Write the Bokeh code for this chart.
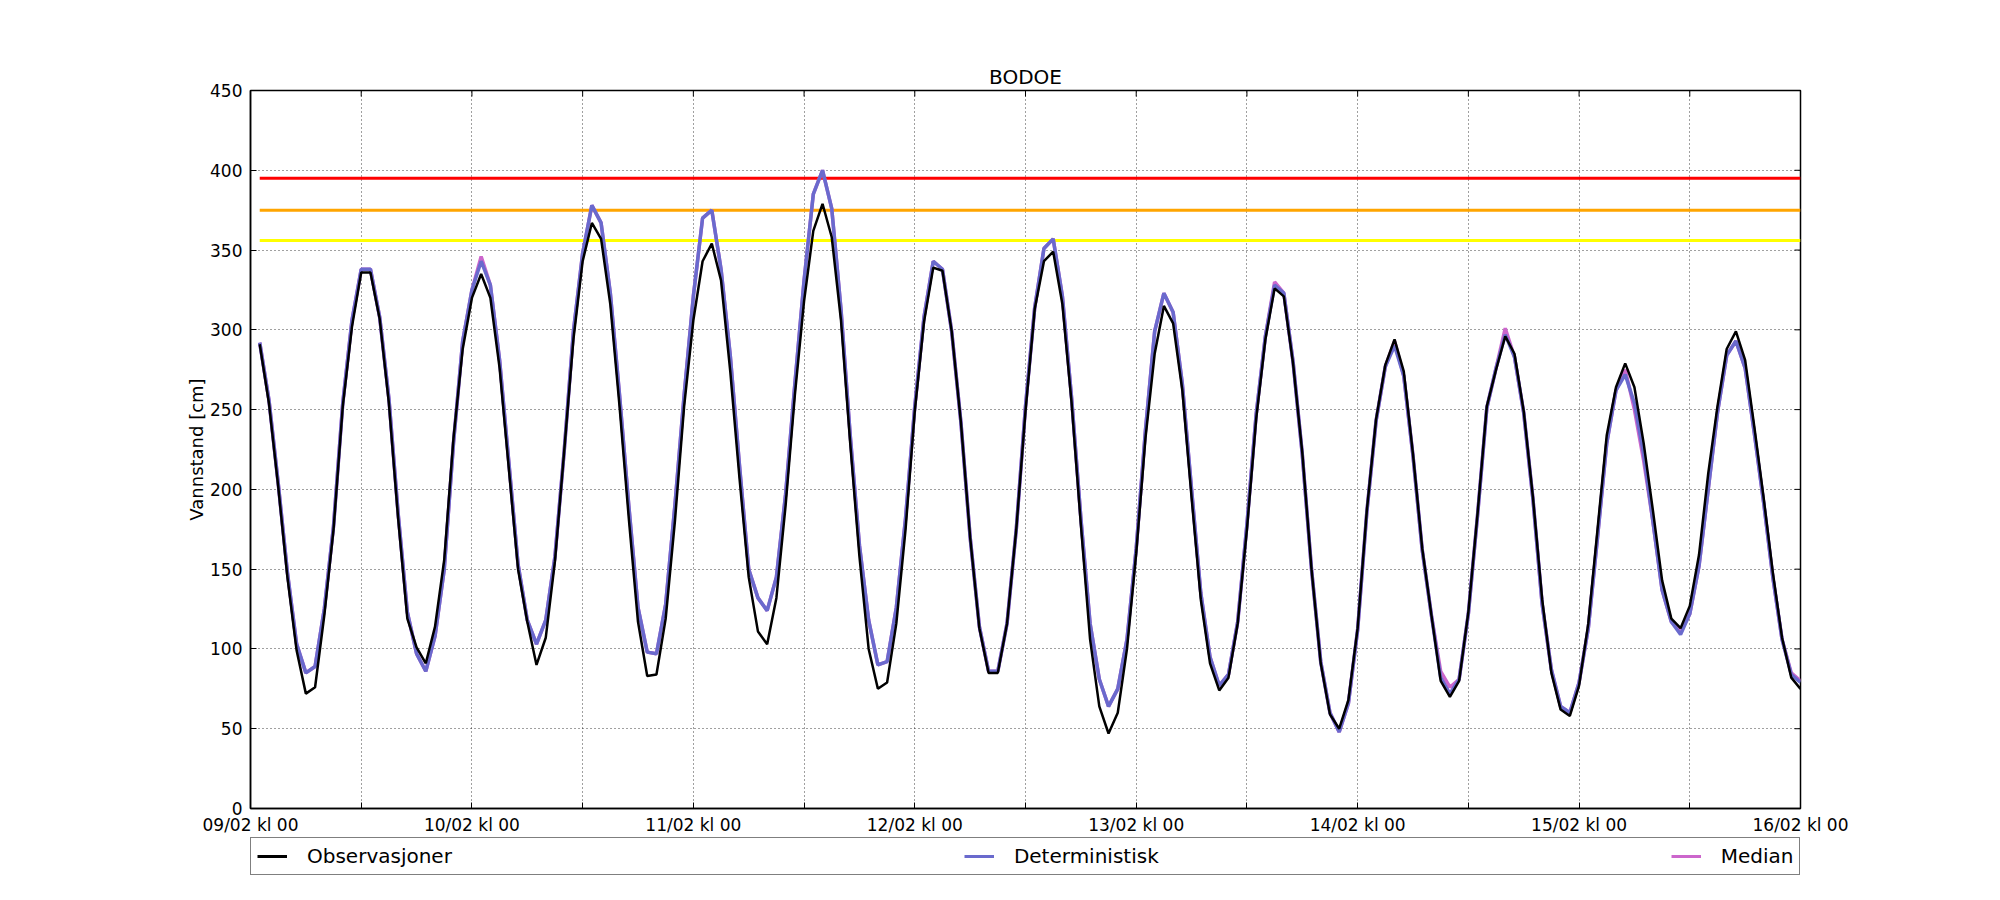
import math
from bokeh.plotting import figure
from bokeh.layouts import column
from bokeh.models import Range1d, FixedTicker, Legend, LegendItem
from bokeh.embed import file_html
from bokeh.resources import INLINE

# hours since 09/02 kl 00
hours = list(range(1, 169))

observasjoner = [
    291, 254, 202, 145, 99, 72, 76, 121, 175, 252, 302, 336, 336, 307, 254, 182, 119, 101, 91, 114,
    156, 232, 288, 320, 335, 320, 276, 213, 150, 117, 90, 107, 155, 224, 294, 343, 367, 357, 316, 252,
    182, 117, 83, 84, 119, 180, 252, 306, 343, 354, 331, 274, 207, 145, 111, 103, 132, 190, 259, 318,
    362, 379, 358, 306, 229, 158, 100, 75, 79, 116, 175, 249, 305, 339, 337, 299, 242, 170, 113, 85,
    85, 116, 175, 249, 313, 343, 349, 316, 254, 178, 106, 64, 47, 60, 100, 160, 232, 285, 315, 304,
    262, 195, 131, 91, 74, 82, 116, 175, 244, 294, 326, 321, 279, 223, 150, 91, 59, 50, 68, 113,
    187, 244, 278, 294, 274, 222, 163, 121, 80, 70, 80, 123, 185, 252, 275, 296, 285, 249, 195, 131,
    85, 62, 58, 77, 116, 175, 234, 264, 279, 264, 229, 187, 143, 119, 113, 127, 159, 210, 252, 288,
    299, 281, 239, 195, 148, 107, 82, 75,
]

deterministisk = [
    292, 256, 204, 148, 103, 85, 89, 125, 177, 254, 306, 338, 338, 308, 257, 185, 123, 97, 86, 108,
    150, 229, 293, 325, 343, 328, 281, 217, 153, 118, 103, 118, 158, 224, 299, 348, 378, 367, 323, 259,
    190, 126, 98, 97, 128, 190, 259, 321, 370, 375, 338, 284, 215, 150, 132, 124, 145, 197, 266, 331,
    385, 400, 376, 313, 234, 165, 118, 90, 92, 126, 182, 252, 308, 343, 338, 299, 242, 170, 114, 86,
    86, 116, 175, 252, 314, 351, 357, 321, 257, 182, 116, 81, 64, 75, 106, 163, 237, 299, 323, 311,
    266, 200, 135, 95, 77, 84, 117, 178, 247, 296, 328, 323, 280, 222, 150, 92, 60, 48, 66, 112,
    186, 243, 277, 290, 271, 221, 162, 121, 82, 72, 81, 122, 184, 251, 276, 297, 283, 248, 194, 128,
    87, 64, 60, 79, 113, 170, 229, 262, 272, 254, 222, 180, 137, 117, 109, 122, 152, 200, 248, 284,
    293, 276, 235, 192, 145, 106, 84, 79,
]

median = [
    292, 256, 204, 148, 103, 85, 89, 125, 177, 254, 306, 338, 338, 308, 257, 185, 123, 97, 86, 108,
    150, 229, 293, 325, 346, 328, 281, 217, 153, 118, 103, 118, 158, 224, 299, 348, 378, 367, 323, 259,
    190, 126, 98, 97, 128, 190, 259, 321, 370, 375, 338, 284, 215, 150, 132, 124, 145, 197, 266, 331,
    385, 400, 376, 313, 234, 165, 118, 90, 92, 126, 182, 252, 308, 343, 338, 299, 242, 170, 114, 86,
    86, 116, 175, 252, 314, 351, 357, 321, 257, 182, 116, 81, 64, 75, 106, 163, 237, 299, 323, 311,
    266, 200, 135, 95, 77, 84, 117, 178, 247, 296, 330, 323, 280, 222, 150, 92, 60, 48, 66, 112,
    186, 243, 277, 293, 271, 221, 162, 121, 86, 76, 81, 122, 184, 251, 276, 301, 283, 248, 194, 128,
    87, 64, 60, 79, 113, 170, 229, 262, 275, 250, 218, 180, 137, 117, 111, 122, 152, 200, 248, 284,
    293, 276, 235, 192, 145, 106, 85, 80,
]

threshold_levels = [395, 375, 356]
threshold_colors = ["#ff0000", "#ffa500", "#ffff00"]

series_names = ["Observasjoner", "Deterministisk", "Median"]
series_colors = ["black", "#6a6acd", "#cc66cc"]
series_widths = [2.5, 3.5, 3.5]

x_tick_hours = list(range(0, 169, 12))
x_tick_labels = ["09/02 kl 00", "", "10/02 kl 00", "", "11/02 kl 00", "", "12/02 kl 00", "",
                 "13/02 kl 00", "", "14/02 kl 00", "", "15/02 kl 00", "", "16/02 kl 00"]
y_ticks = list(range(0, 451, 50))
X_MIN, X_MAX, Y_MIN, Y_MAX = 0, 168, 0, 450

FONT = "DejaVu Sans"

p = figure(width=2000, height=837, output_backend="svg", toolbar_location=None,
           x_range=Range1d(X_MIN, X_MAX), y_range=Range1d(Y_MIN, Y_MAX),
           min_border_left=250, min_border_right=200, min_border_top=90, min_border_bottom=27)

p.title.text = "BODOE"
p.title.text_font = FONT
p.title.text_font_size = "20px"
p.title.text_font_style = "normal"
p.title.text_color = "black"
p.title.align = "center"
p.title.standoff = 4

p.outline_line_color = "black"
p.outline_line_width = 1.5

xt = FixedTicker(ticks=x_tick_hours)
yt = FixedTicker(ticks=y_ticks)

xa = p.xaxis[0]
xa.ticker = xt
xa.major_label_overrides = {h: lab for h, lab in zip(x_tick_hours, x_tick_labels)}
ya = p.yaxis[0]
ya.ticker = yt
ya.axis_label = "Vannstand [cm]"
ya.axis_label_text_font = FONT
ya.axis_label_text_font_size = "18px"
ya.axis_label_text_font_style = "normal"
ya.axis_label_text_color = "black"
ya.axis_label_standoff = 0

for ax in (xa, ya):
    ax.major_label_text_font = FONT
    ax.major_label_text_font_size = "17px"
    ax.major_label_text_color = "black"
    ax.major_tick_in = 6
    ax.major_tick_out = 0
    ax.minor_tick_in = 0
    ax.minor_tick_out = 0
    ax.axis_line_color = "black"
    ax.axis_line_width = 1.5
    ax.major_tick_line_color = "black"
xa.major_label_standoff = 6
ya.major_label_standoff = 8

# mirrored inward ticks on the right and top edges
p.ray(x=[X_MAX] * len(y_ticks), y=y_ticks, length=6, length_units="screen",
      angle=math.pi, line_color="black", line_width=1)
p.ray(x=x_tick_hours, y=[Y_MAX] * len(x_tick_hours), length=6, length_units="screen",
      angle=-math.pi / 2, line_color="black", line_width=1)

for g in (p.xgrid[0], p.ygrid[0]):
    g.grid_line_color = "black"
    g.grid_line_alpha = 0.75
    g.grid_line_width = 1
    g.grid_line_dash = "1 3"
p.xgrid[0].ticker = xt
p.ygrid[0].ticker = yt

for lvl, col in zip(threshold_levels, threshold_colors):
    p.line([hours[0], hours[-1]], [lvl, lvl], line_color=col, line_width=3)

p.line(hours, median, line_color=series_colors[2], line_width=series_widths[2])
p.line(hours, deterministisk, line_color=series_colors[1], line_width=series_widths[1])
p.line(hours, observasjoner, line_color=series_colors[0], line_width=series_widths[0])

# legend strip below the chart (matplotlib-style expanded legend box);
# the proxy lines carry the series data but fall outside this strip's ranges
lg = figure(width=2000, height=63, output_backend="svg", toolbar_location=None,
            x_range=Range1d(-2, -1), y_range=Range1d(-2, -1), x_axis_type=None, y_axis_type=None,
            min_border_left=250, min_border_right=200, min_border_top=0, min_border_bottom=0)
lg.outline_line_color = None
lg.xgrid.visible = False
lg.ygrid.visible = False
items = []
for name, col, vals in zip(series_names, series_colors, [observasjoner, deterministisk, median]):
    r = lg.line(hours, vals, line_color=col, line_width=3)
    items.append(LegendItem(label=name, renderers=[r]))

legend = Legend(items=items, orientation="horizontal", location="top_left")
legend.label_text_font = FONT
legend.label_text_font_size = "20px"
legend.label_text_color = "black"
legend.glyph_width = 30
legend.glyph_height = 20
legend.label_height = 20
legend.label_standoff = 20
legend.padding = 6
legend.spacing = 512
legend.margin = 0
legend.border_line_color = "black"
legend.border_line_width = 1.5
legend.background_fill_color = "white"
legend.background_fill_alpha = 1
lg.add_layout(legend)

open("out.html", "w").write(file_html(column(p, lg, spacing=0), INLINE))
